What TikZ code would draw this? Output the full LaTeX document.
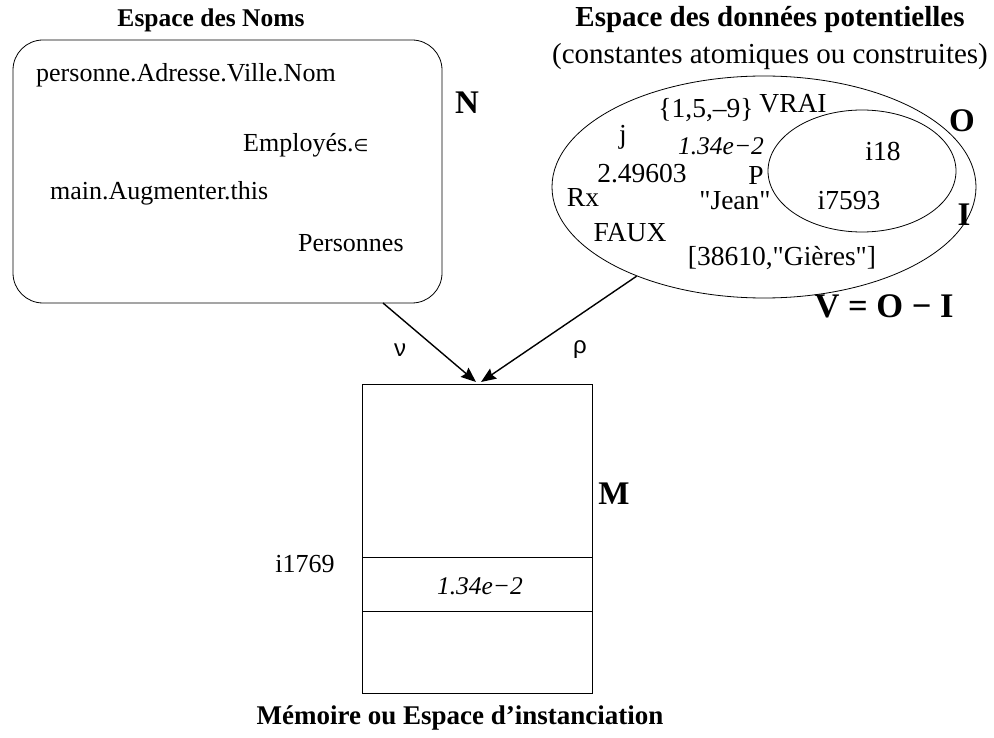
\documentclass[tikz,border=0pt]{standalone}
\usepackage{fontspec}
\setmainfont{Liberation Serif}[Ligatures=TeXOff]
\newfontfamily\greekfont{Liberation Sans}
\newfontfamily\symfont{DejaVu Sans}
\usetikzlibrary{arrows.meta,shapes.geometric}

\tikzset{
  txt/.style={inner sep=0pt, font=\fontsize{26}{30}\selectfont},
  dat/.style={inner sep=0pt, font=\fontsize{27.5}{31}\selectfont},
  itl/.style={inner sep=0pt, font=\fontsize{25.5}{30}\selectfont\itshape},
  big/.style={inner sep=0pt, font=\fontsize{33}{38}\selectfont\bfseries},
  lbl/.style={inner sep=0pt, font=\fontsize{24}{28}\selectfont\greekfont},
  link/.style={line width=1.4pt, -{Stealth[length=15pt,width=12pt,inset=2pt]}},
  thin/.style={line width=0.8pt}
}

\begin{document}
\begin{tikzpicture}[x=1pt,y=-1pt]
  \useasboundingbox (0,0) rectangle (994,738);

  % Name space
  \node[inner sep=0pt, font=\fontsize{25.5}{30}\selectfont\bfseries] (tN) at (211,20) {Espace des Noms};
  \node[draw, thin, rounded corners=30pt, minimum width=429pt, minimum height=263pt,
        inner sep=0pt] (names) at (227.5,171.5) {};
  \node[big] (N) at (467,103) {N};
  \node[txt, anchor=west] (n1) at (36,75) {personne.Adresse.Ville.Nom};
  \node[txt, anchor=west] (n2) at (243,145) {Employés.{\symfont\fontsize{17}{19}\selectfont ∈}};
  \node[txt, anchor=west] (n3) at (50,193) {main.Augmenter.this};
  \node[txt, anchor=west] (n4) at (298,243) {Personnes};

  % Potential data space
  \node[inner sep=0pt, font=\fontsize{29}{33}\selectfont\bfseries] (tD) at (770,20) {Espace des données potentielles};
  \node[inner sep=0pt, font=\fontsize{29}{33}\selectfont] (tD2) at (770,57) {(constantes atomiques ou construites)};
  \node[draw, thin, ellipse, minimum width=424pt, minimum height=222pt, inner sep=0pt]
        (outer) at (764,187) {};
  \node[draw, thin, ellipse, minimum width=188pt, minimum height=122pt, inner sep=0pt]
        (inner) at (862,171) {};
  \node[big] (O) at (962,121) {O};
  \node[big] (I) at (964,215) {I};
  \node[big, font=\fontsize{34.5}{38}\selectfont\bfseries] (V) at (884,306) {V = O − I};

  \node[dat] (d1) at (706,110) {\{1,5,–9\}};
  \node[dat] (d2) at (793,104) {VRAI};
  \node[dat] (d3) at (623,137) {j};
  \node[itl] (d4) at (721,146) {1.34e−2};
  \node[dat] (d5) at (642,174) {2.49603};
  \node[dat] (d6) at (756,175) {P};
  \node[dat] (d7) at (583,197) {Rx};
  \node[dat] (d8) at (735,201) {"Jean"};
  \node[dat] (d9) at (883,151) {i18};
  \node[dat] (d10) at (849,201) {i7593};
  \node[dat] (d11) at (630,233) {FAUX};
  \node[dat] (d12) at (782,258) {[38610,"Gières"]};

  % Memory
  \node[draw, thin, minimum width=230pt, minimum height=309pt, inner sep=0pt]
        (mem) at (477,538.5) {};
  \node[big] (M) at (614,494) {M};
  \coordinate (cutA) at (362,557);
  \coordinate (cutB) at (362,611);
  \draw[thin] (cutA) -- (cutA -| mem.east);
  \draw[thin] (cutB) -- (cutB -| mem.east);
  \node[itl] (cell) at (480,586) {1.34e−2};
  \node[txt] (addr) at (305,564) {i1769};
  \node[inner sep=0pt, font=\fontsize{27}{31}\selectfont\bfseries] (tM) at (460,718) {Mémoire ou Espace d’instanciation};

  % Mappings
  \coordinate (nuS) at (383,303);
  \coordinate (nuE) at (476,382);
  \coordinate (rhoE) at (481,382);
  \draw[link] (nuS) -- (nuE);
  \draw[link] (outer.215) -- (rhoE);
  \node[lbl] (nu) at (400,350) {ν};
  \node[lbl] (rho) at (580,350) {ρ};
\end{tikzpicture}
\end{document}
